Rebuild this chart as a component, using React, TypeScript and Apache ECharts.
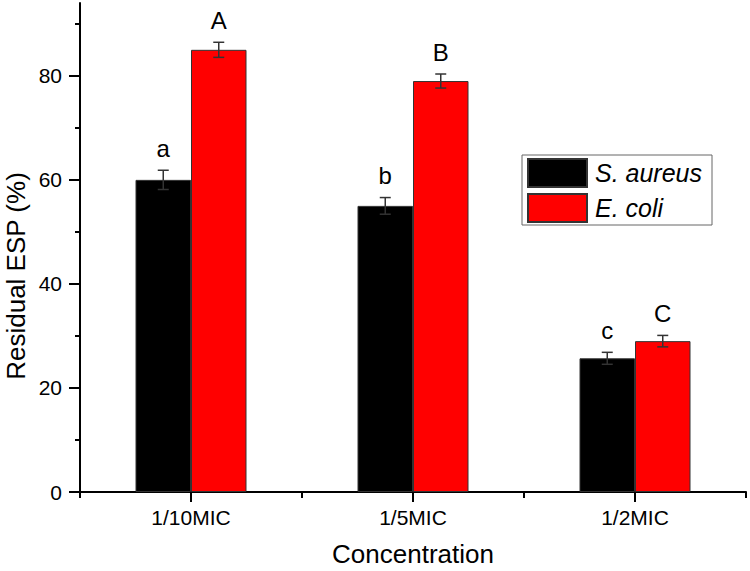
import React, { useEffect, useRef } from "react";
import * as echarts from "echarts";

const categories = ["1/10MIC", "1/5MIC", "1/2MIC"];
const seriesNames = ["S. aureus", "E. coli"];
const saureus = [60, 55, 25.7];
const saureusErr = [1.85, 1.6, 1.15];
const ecoli = [85, 79, 29];
const ecoliErr = [1.45, 1.35, 1.1];
const saureusLetters = ["a", "b", "c"];
const ecoliLetters = ["A", "B", "C"];
const yTicks = [0, 20, 40, 60, 80];
const yMinorTicks = [10, 30, 50, 70, 90];
const yMax = 94;

const FONT = "'Liberation Sans', Arial, sans-serif";

function errorSeries(values: number[], errs: number[], letters: string[], offset: number) {
  return {
    type: "custom",
    name: "err" + offset,
    z: 10,
    encode: { x: 0, y: 1 },
    data: values.map((v, i) => [i, v, errs[i]]),
    renderItem: (params: any, api: any) => {
      const idx = api.value(0);
      const v = api.value(1);
      const e = api.value(2);
      const band = api.size([1, 0])[0];
      const c = api.coord([idx, v]);
      const x = c[0] + offset * band;
      const yTop = api.coord([idx, v + e])[1];
      const yBot = api.coord([idx, v - e])[1];
      const hw = 5.5;
      const st = { stroke: "#333", lineWidth: 1.5 };
      return {
        type: "group",
        children: [
          { type: "line", shape: { x1: x, y1: yTop, x2: x, y2: yBot }, style: st },
          { type: "line", shape: { x1: x - hw, y1: yTop, x2: x + hw, y2: yTop }, style: st },
          { type: "line", shape: { x1: x - hw, y1: yBot, x2: x + hw, y2: yBot }, style: st },
          {
            type: "text",
            x: x,
            y: yTop - 10,
            style: {
              text: letters[params.dataIndex],
              fontSize: 24,
              fontFamily: FONT,
              fill: "#000",
              align: "center",
              verticalAlign: "bottom",
            },
          },
        ],
      };
    },
  };
}

export default function App() {
  const ref = useRef<HTMLDivElement>(null);
  useEffect(() => {
    if (!ref.current) return;
    const chart = echarts.init(ref.current, null, { renderer: "svg" });
    chart.setOption({
      animation: false,
      backgroundColor: "#fff",
      textStyle: { fontFamily: FONT },
      grid: { left: 80, right: 4, top: 3, bottom: 79, containLabel: false, outerBoundsMode: "none" },
      legend: {
        data: seriesNames,
        orient: "vertical",
        left: 522,
        top: 155,
        padding: [3, 10, 2, 5],
        itemWidth: 59,
        itemHeight: 28,
        itemGap: 5,
        borderColor: "#666",
        borderWidth: 1,
        icon: "rect",
        textStyle: { fontSize: 25, fontStyle: "italic", color: "#000", fontFamily: FONT, padding: [0, 0, 0, 3] },
      },
      graphic: [
        {
          type: "text",
          x: 16,
          y: 276,
          rotation: Math.PI / 2,
          style: {
            text: "Residual ESP (%)",
            fontSize: 26,
            fontFamily: FONT,
            fill: "#000",
            align: "center",
            verticalAlign: "middle",
          },
        },
      ],
      xAxis: [
        {
          type: "category",
          data: categories,
          name: "Concentration",
          nameLocation: "middle",
          nameGap: 49,
          nameTextStyle: { fontSize: 26, color: "#000", fontFamily: FONT },
          axisLine: { show: true, lineStyle: { color: "#000", width: 2 } },
          axisTick: { show: true, alignWithLabel: true, length: 10, lineStyle: { color: "#000", width: 2 } },
          axisLabel: { fontSize: 21, color: "#000", margin: 15, fontFamily: FONT },
          splitLine: { show: false },
        },
        {
          type: "category",
          data: categories,
          position: "bottom",
          axisLine: { show: false },
          axisTick: { show: true, alignWithLabel: false, length: 6, lineStyle: { color: "#000", width: 2 } },
          axisLabel: { show: false },
          splitLine: { show: false },
        },
      ],
      yAxis: [
        {
          type: "value",
          min: 0,
          max: yMax,
          axisLine: { show: true, lineStyle: { color: "#000", width: 2 } },
          axisTick: { show: true, length: 11, lineStyle: { color: "#000", width: 2 }, customValues: yTicks },
          axisLabel: { fontSize: 21, color: "#000", margin: 18, fontFamily: FONT, customValues: yTicks },
          splitLine: { show: false },
        },
        {
          type: "value",
          min: 0,
          max: yMax,
          position: "left",
          axisLine: { show: false },
          axisTick: { show: true, length: 5, lineStyle: { color: "#000", width: 2 }, customValues: yMinorTicks },
          axisLabel: { show: false },
          splitLine: { show: false },
        },
      ],
      series: [
        {
          type: "bar",
          name: seriesNames[0],
          data: saureus,
          barGap: "0%",
          barCategoryGap: "50%",
          itemStyle: { color: "#000", borderColor: "#333", borderWidth: 1 },
        },
        {
          type: "bar",
          name: seriesNames[1],
          data: ecoli,
          barGap: "0%",
          barCategoryGap: "50%",
          itemStyle: { color: "#ff0000", borderColor: "#333", borderWidth: 1 },
        },
        errorSeries(saureus, saureusErr, saureusLetters, -0.125),
        errorSeries(ecoli, ecoliErr, ecoliLetters, 0.125),
      ],
    });
    return () => chart.dispose();
  }, []);
  return <div ref={ref} style={{ position: "fixed", left: 0, top: 0, width: 750, height: 571 }} />;
}
